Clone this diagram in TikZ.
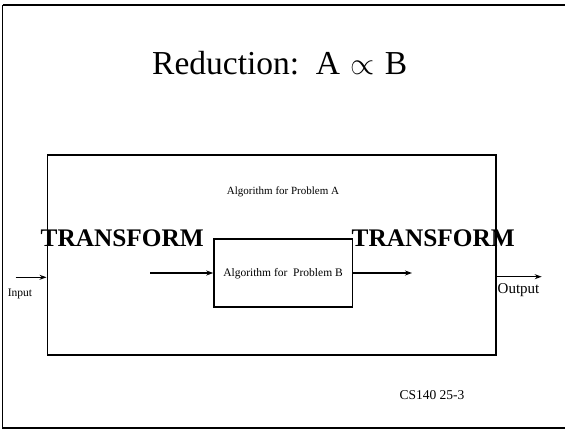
\documentclass[tikz,border=0pt]{standalone}
\usepackage{fontspec}
\setmainfont{Liberation Serif}
\usetikzlibrary{arrows.meta}
\begin{document}
\begin{tikzpicture}[x=1pt,y=-1pt,
  frame/.style={draw=black,line width=1.8pt},
  boxstyle/.style={draw=black,line width=1.6pt,rectangle,inner sep=0pt},
  arr/.style={line width=1.3pt,-{Stealth[length=7pt,width=5pt]}},
  lbl/.style={inner sep=0pt,font=\fontsize{11}{13}\selectfont},
  big/.style={inner sep=0pt,anchor=base west,font=\fontsize{25.3}{30}\selectfont\bfseries}]
\useasboundingbox (0,0) rectangle (565,429);
\clip (0,0) rectangle (565,429);
\draw[frame] (2.5,5) -- (565,5) (2.5,5) -- (2.5,428) -- (565,428);
% title
\node[inner sep=0pt,anchor=base west,font=\fontsize{33.5}{36}\selectfont] (title) at (152,74)
  {Reduction:\hspace{0.5em}A\hspace{0.25em}\makebox[28pt]{\scalebox{1.25}{$\propto$}}\hspace{0.25em}B};
% boxes
\node[boxstyle,minimum width=448.4pt,minimum height=200pt] (boxA) at (271.5,254.7) {};
\node[boxstyle,minimum width=138.3pt,minimum height=68pt] (boxB) at (283.2,273) {};
\node[lbl] (labA) at (283,192) {Algorithm for Problem A};
\node[lbl,font=\fontsize{11.5}{13}\selectfont] (labB) at (283,273.5) {Algorithm for\ \ Problem B};
\node[big] (tl) at (40.5,246.5) {TRANSFORM};
\node[big] (tr) at (351.5,246.5) {TRANSFORM};
\node[lbl,font=\fontsize{11.5}{13}\selectfont] (in) at (20,294) {Input};
\node[lbl,font=\fontsize{15}{17}\selectfont] (out) at (518.5,290) {Output};
\node[lbl,font=\fontsize{13.5}{15}\selectfont] (cs) at (432,395) {CS140 25-3};
% arrows
\coordinate (inS) at (15.7,277.3);
\coordinate (midS) at (150,273);
\coordinate (midE) at (412,273);
\coordinate (outE) at (541.7,276.7);
\draw[arr] (inS) -- (boxA.west |- inS);
\draw[arr] (midS) -- (boxB.west);
\draw[arr] (boxB.east) -- (midE);
\draw[arr] (boxA.east |- outE) -- (outE);
\end{tikzpicture}
\end{document}
